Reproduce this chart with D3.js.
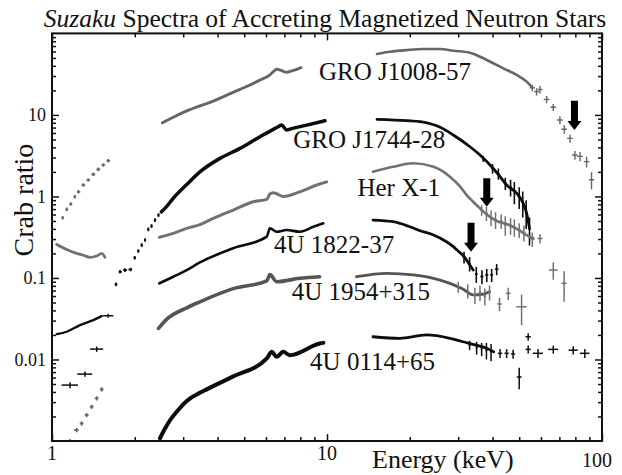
<!DOCTYPE html>
<html><head><meta charset="utf-8">
<script src="https://cdn.jsdelivr.net/npm/d3@7"></script>
<style>
body{margin:0;background:#fff}
text{font-family:"Liberation Serif","Times New Roman",serif;fill:#111}
</style>
</head><body>
<svg id="chart" width="622" height="475"></svg>
<script>
// ---------------- data (Energy keV, Crab ratio) ----------------
const xTicksMajor = [1, 10, 100];
const yTicksMajor = [0.01, 0.1, 1, 10];
const xTickLabels = ["1", "10", "100"];
const yTickLabels = ["0.01", "0.1", "1", "10"];

// GRO J1008-57
const j1008Soft = [[1.094,0.548],[1.131,0.695],[1.17,0.807],[1.212,0.993],[1.246,1.14],[1.30,1.38],[1.355,1.59],[1.413,1.87],[1.474,2.15],[1.537,2.43],[1.602,2.74]];
const j1008XIS = [[2.52,8.0],[2.76,9.35],[3.09,11.2],[3.45,12.9],[3.86,14.8],[4.32,17.5],[4.83,20.6],[5.25,23.3],[5.71,26.8],[6.2,30.9],[6.38,33.9],[6.56,36.3],[6.84,35.0],[7.13,33.3],[7.44,34.6],[7.77,36.3],[8.04,38.0]];
const j1008PIN = [[15.2,56],[16.95,59.6],[19.5,62.5],[22.4,64.4],[25.8,64.5],[28.8,61.3],[33.1,58],[38.1,47.2],[43.8,37.3],[49,30.9],[53.2,25.6],[55.5,22]];
const j1008Err = [[55.8,21.5,1.2,2],[57.8,19.3,1.2,2],[59.5,20.5,1.2,2.2],[62.9,15.5,1.5,1.6],[66.5,12.4,1.5,1.2],[70.3,8.66,1.7,1.0],[72.9,6.66,1.7,0.8],[76.5,5.16,1.8,0.6],[79.7,3.22,1.9,0.4],[83.2,3.1,2,0.4],[87.9,2.67,2,0.4],[91.6,1.6,2,0.38]];

// GRO J1744-28
const j1744Soft = [[1.163,0.00485,0.08,0.0004],[1.318,0.00662,0.083,0.0005],[1.454,0.0134,0.08,0.001]];
const j1744Sparse = [[1.709,0.0835],[1.767,0.119],[1.842,0.125],[1.932,0.127],[2.0,0.177],[2.06,0.214],[2.12,0.253],[2.18,0.292],[2.24,0.395],[2.30,0.433],[2.37,0.513],[2.44,0.591],[2.50,0.649]];
const j1744XIS = [[2.50,0.649],[2.6,0.74],[2.76,0.95],[3.09,1.4],[3.45,2.0],[4.08,2.93],[4.83,3.89],[5.71,5.41],[6.4,6.7],[6.65,7.16],[6.84,7.5],[7.13,6.53],[7.44,6.8],[8.44,7.5],[9.83,8.49]];
const j1744PIN = [[15.2,8.83],[19.5,8.5],[21.8,8.25],[25.8,7.05],[28.8,5.67],[33.1,4.07],[36.0,3.22],[39.7,2.31],[42.6,1.75],[45,1.38],[49,1.09],[51.7,0.823],[53.2,0.62],[54.4,0.42]];
const j1744Err = [[37,2.9,0.4,0.25],[40,2.2,0.4,0.3],[42,1.9,0.4,0.3],[44.5,1.45,0.5,0.25],[46.5,1.3,0.5,0.3],[48,1.15,0.5,0.35],[50,1.0,0.5,0.3],[51.5,0.85,0.5,0.3],[53,0.65,0.5,0.25],[54.5,0.4,0.6,0.15]];

// Her X-1
const herSoft = [[1.04,0.258],[1.131,0.224],[1.23,0.20],[1.30,0.19],[1.374,0.179],[1.454,0.186],[1.516,0.20],[1.558,0.179]];
const herXIS = [[2.455,0.315],[2.76,0.352],[3.09,0.406],[3.45,0.45],[3.86,0.538],[4.56,0.681],[5.4,0.861],[6.04,0.92],[6.2,1.07],[6.38,1.11],[6.56,1.08],[6.93,1.0],[7.96,1.14],[9.18,1.38],[9.97,1.51]];
const herPIN = [[14.7,2.01],[17.4,2.31],[20.6,2.55],[24.4,2.31],[28,1.75],[30.5,1.32],[32.2,1.04],[34,0.861],[36,0.714],[38.1,0.6],[41.4,0.5],[45,0.46],[49,0.4],[53.2,0.336],[56.3,0.306]];
const herErr = [[36.5,0.68,0.4,0.1],[38,0.62,0.4,0.12],[39.5,0.55,0.4,0.12],[41,0.52,0.5,0.12],[43,0.5,0.5,0.1],[44.5,0.45,0.5,0.12],[46.5,0.44,0.5,0.1],[48,0.42,0.5,0.1],[50,0.39,0.5,0.08],[52,0.36,0.6,0.08],[55.8,0.3,1.0,0.06],[59.5,0.305,1.3,0.04],[66.5,0.125,2.5,0.03],[72.8,0.086,1.5,0.035]];

// 4U 1822-37
const u1822Soft = [[1.04,0.0205],[1.131,0.0219],[1.264,0.0264],[1.413,0.0304],[1.516,0.034]];
const u1822SoftErr = [[1.6,0.0344,0.07,0.002]];
const u1822XIS = [[2.455,0.0859],[2.76,0.1035],[3.09,0.125],[3.45,0.155],[4.56,0.231],[6.04,0.321],[6.2,0.406],[6.56,0.369],[7.13,0.387],[7.96,0.369],[8.92,0.425],[9.69,0.468]];
const u1822PIN = [[14.7,0.513],[17.4,0.49],[20,0.425],[21.8,0.38],[24.4,0.336],[27.2,0.278],[28.8,0.242],[29.7,0.22],[31.2,0.19],[32.6,0.155],[34,0.125]];
const u1822Err = [[31.5,0.18,0.3,0.03],[33,0.15,0.3,0.03],[34.9,0.112,0.4,0.025],[36.6,0.104,0.5,0.02],[38.1,0.109,0.5,0.02],[39.7,0.109,0.5,0.02],[41.4,0.128,0.6,0.02]];

// 4U 1954+315
const u1954Soft = [[1.163,0.001],[1.23,0.00136],[1.282,0.00164],[1.337,0.00208],[1.394,0.00263],[1.454,0.00334],[1.516,0.0043]];
const u1954XIS = [[2.44,0.0241],[2.61,0.031],[3.09,0.043],[3.45,0.051],[4.56,0.074],[6.04,0.092],[6.2,0.11],[6.56,0.09],[7.96,0.099],[9.4,0.1035]];
const u1954PIN = [[12.8,0.1035],[16.5,0.114],[20.6,0.109],[24.4,0.0989],[28,0.0859],[31.2,0.073],[34,0.062],[37,0.0635],[39,0.0678]];
const u1954Err = [[30,0.078,0.3,0.012],[32.5,0.07,0.3,0.014],[34.5,0.062,0.4,0.014],[36,0.066,0.4,0.014],[37.5,0.06,0.4,0.014],[39,0.067,0.4,0.014],[42.4,0.048,0.8,0.009],[45.6,0.0647,0.9,0.011],[51,0.0443,2.2,0.018]];

// 4U 0114+65
const u0114XIS = [[2.47,0.00108],[2.58,0.00143],[2.69,0.00181],[2.84,0.00228],[3.09,0.0031],[3.45,0.0039],[3.65,0.0043],[4.56,0.0062],[6.04,0.0103],[6.3,0.0124],[6.56,0.0108],[6.93,0.0124],[7.33,0.0113],[9.4,0.0157],[9.7,0.016]];
const u0114PIN = [[14.7,0.019],[18.4,0.0182],[23,0.02],[28,0.0182],[31.2,0.0165],[34.9,0.015],[38.1,0.0137],[40.4,0.0124]];
const u0114Err = [[33,0.015,0.3,0.002],[35,0.014,0.3,0.0025],[36.5,0.0135,0.3,0.0025],[38,0.013,0.4,0.003],[39.5,0.0125,0.4,0.003],[42.6,0.0119,0.8,0.0015],[45,0.0119,0.8,0.0015],[47.5,0.0117,0.8,0.0015],[50,0.0061,1.0,0.0018],[53.9,0.019,1.2,0.002],[53.9,0.0133,1.2,0.0015],[58.5,0.0119,2.5,0.0015],[66.5,0.0133,2.8,0.0015],[78.6,0.013,3.0,0.0015],[86.6,0.0119,3.5,0.0015]];

// source labels: [name, E, V]
const sourceLabels = [["GRO J1008-57",9.35,26.8],["GRO J1744-28",7.54,3.89],["Her X-1",12.9,1.0],["4U 1822-37",6.42,0.2],["4U 1954+315",7.44,0.0535],["4U 0114+65",8.68,0.0074]];
// cyclotron line arrows: [E, Vtop, Vtip]
const cyclotronArrows = [[79.4,14.9,6.53],[38.1,1.67,0.748],[33.4,0.475,0.21]];

// ---------------- drawing ----------------
const svg = d3.select("#chart");
const x = d3.scaleLog().domain([1,100]).range([52,602]);
const y = d3.scaleLog().domain([0.001,100]).range([441,33.4]);
const GRAY1="#666", GRAY2="#727272", GRAY3="#555", BLACK="#0d0d0d";

svg.append("defs").append("clipPath").attr("id","clip")
  .append("rect").attr("x",52).attr("y",33.4).attr("width",550).attr("height",407.6);
const plot = svg.append("g").attr("clip-path","url(#clip)");

const line = d3.line().x(d=>x(d[0])).y(d=>y(d[1])).curve(d3.curveMonotoneX);
function drawLine(data,color,w){
  plot.append("path").datum(data).attr("d",line).attr("fill","none")
    .attr("stroke",color).attr("stroke-width",w).attr("stroke-linejoin","round").attr("stroke-linecap","round");
}
function drawErr(data,color,w){
  const g = plot.append("g").attr("stroke",color).attr("stroke-width",w||1.4);
  data.forEach(d=>{
    g.append("line").attr("x1",x(d[0]-d[2])).attr("x2",x(d[0]+d[2])).attr("y1",y(d[1])).attr("y2",y(d[1]));
    g.append("line").attr("x1",x(d[0])).attr("x2",x(d[0])).attr("y1",y(d[1]-d[3])).attr("y2",y(d[1]+d[3]));
  });
}
// binned points: horizontal bars span half-way to neighbours
function drawBins(data,color,vfrac){
  const g = plot.append("g").attr("stroke",color).attr("stroke-width",1.7);
  data.forEach((d,i)=>{
    const lo = i>0 ? Math.sqrt(d[0]*data[i-1][0]) : d[0]*d[0]/Math.sqrt(d[0]*data[i+1][0]);
    const hi = i<data.length-1 ? Math.sqrt(d[0]*data[i+1][0]) : d[0]*d[0]/Math.sqrt(d[0]*data[i-1][0]);
    g.append("line").attr("x1",x(lo)+0.6).attr("x2",x(hi)-0.6).attr("y1",y(d[1])).attr("y2",y(d[1]));
    g.append("line").attr("x1",x(d[0])).attr("x2",x(d[0])).attr("y1",y(d[1]*(1-vfrac))).attr("y2",y(d[1]*(1+vfrac)));
  });
}

// GRO J1008-57
drawBins(j1008Soft,GRAY1,0.05);
drawLine(j1008XIS,GRAY1,2.9);
drawLine(j1008PIN,GRAY1,2.6);
drawErr(j1008Err,GRAY1,1.4);
// GRO J1744-28
drawErr(j1744Soft,BLACK,1.5);
drawBins(j1744Sparse,BLACK,0.05);
drawLine(j1744XIS,BLACK,3.5);
drawLine(j1744PIN,BLACK,2.8);
drawErr(j1744Err,BLACK,1.6);
// Her X-1
drawLine(herSoft,GRAY2,2.8);
drawLine(herXIS,GRAY2,3.0);
drawLine(herPIN,GRAY2,2.6);
drawErr(herErr,GRAY2,1.5);
// 4U 1822-37
drawLine(u1822Soft,BLACK,2.3);
drawErr(u1822SoftErr,BLACK,1.5);
drawLine(u1822XIS,BLACK,2.6);
drawLine(u1822PIN,BLACK,2.8);
drawErr(u1822Err,BLACK,1.6);
// 4U 1954+315
drawBins(u1954Soft,GRAY1,0.06);
drawLine(u1954XIS,GRAY3,3.6);
drawLine(u1954PIN,GRAY3,2.8);
drawErr(u1954Err,GRAY2,1.5);
// 4U 0114+65
drawLine(u0114XIS,BLACK,4.0);
drawLine(u0114PIN,BLACK,2.8);
drawErr(u0114Err,BLACK,1.5);

// arrows
cyclotronArrows.forEach(a=>{
  const cx=x(a[0]), yt=y(a[1]), yp=y(a[2]);
  const sw=3.5, hw=7, hh=9;
  const pts=[[cx-sw,yt],[cx+sw,yt],[cx+sw,yp-hh],[cx+hw,yp-hh],[cx,yp],[cx-hw,yp-hh],[cx-sw,yp-hh]];
  svg.append("polygon").attr("points",pts.map(p=>p.join(",")).join(" ")).attr("fill","#000");
});

// source labels
svg.append("g").selectAll("text").data(sourceLabels).join("text")
  .attr("x",d=>x(d[1])).attr("y",d=>y(d[2])).attr("font-size",25).text(d=>d[0]);

// axes ticks (inward) on four sides
function minorTicks(scale){
  const [a,b]=scale.domain(); const out=[];
  for(let p=Math.floor(Math.log10(a)); p<Math.log10(b); p++)
    for(let k=2;k<=9;k++){ const v=k*Math.pow(10,p); if(v>a&&v<b) out.push(v); }
  return out;
}
const yMaj=[0.01,0.1,1,10];
function addAxis(gen,tf,vals,size){
  svg.append("g").attr("transform",tf)
    .call(gen.tickValues(vals).tickSize(size).tickFormat(""))
    .call(g=>{g.select(".domain").remove(); g.selectAll("line").attr("stroke","#111").attr("stroke-width",1.5);});
}
addAxis(d3.axisBottom(x),"translate(0,441)",xTicksMajor,-7);
addAxis(d3.axisBottom(x),"translate(0,441)",minorTicks(x),-4);
addAxis(d3.axisTop(x),"translate(0,33.4)",xTicksMajor,-7);
addAxis(d3.axisTop(x),"translate(0,33.4)",minorTicks(x),-4);
addAxis(d3.axisLeft(y),"translate(52,0)",yMaj,-7);
addAxis(d3.axisLeft(y),"translate(52,0)",minorTicks(y),-4);
addAxis(d3.axisRight(y),"translate(602,0)",yMaj,-7);
addAxis(d3.axisRight(y),"translate(602,0)",minorTicks(y),-4);

svg.append("rect").attr("x",52).attr("y",33.4).attr("width",550).attr("height",407.6)
  .attr("fill","none").attr("stroke","#111").attr("stroke-width",2);

// tick labels
svg.append("g").selectAll("text").data(xTicksMajor).join("text")
  .attr("x",(d,i)=> i===2 ? x(d)-5 : x(d)).attr("y",(d,i)=> i===2 ? 467 : 460)
  .attr("text-anchor","middle").attr("font-size",20).text((d,i)=>xTickLabels[i]);
svg.append("g").selectAll("text").data(yTicksMajor).join("text")
  .attr("x",46).attr("y",d=>y(d)).attr("dy","0.35em")
  .attr("text-anchor","end").attr("font-size",18).text((d,i)=>yTickLabels[i]);

// axis titles
svg.append("text").attr("x",372).attr("y",468).attr("font-size",26).text("Energy (keV)");
svg.append("text").attr("transform","translate(33,200) rotate(-90)").attr("text-anchor","middle")
  .attr("font-size",28).text("Crab ratio");
const title = svg.append("text").attr("x",325).attr("y",27).attr("text-anchor","middle").attr("font-size",25.5);
title.append("tspan").attr("font-style","italic").text("Suzaku");
title.append("tspan").text(" Spectra of Accreting Magnetized Neutron Stars");
</script>
</body></html>
